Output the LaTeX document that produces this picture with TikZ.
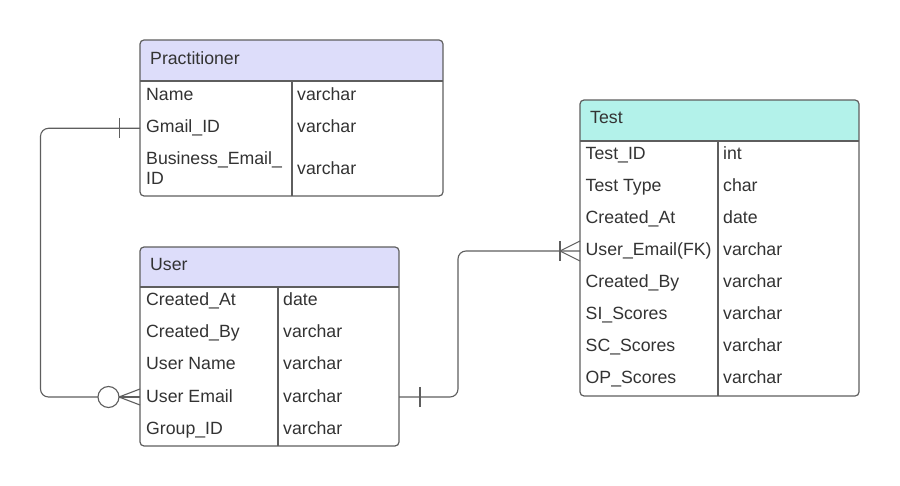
\documentclass[tikz,border=0pt]{standalone}
\usepackage{fontspec}
\setmainfont{Liberation Sans}
\usetikzlibrary{positioning}
\definecolor{lav}{HTML}{DDDDFA}
\definecolor{mint}{HTML}{B3F2EA}
\definecolor{edge}{HTML}{5E5E5E}
\definecolor{ink}{HTML}{333333}
\tikzset{
  tbl/.style={draw=edge,line width=1.2pt,rounded corners=4pt,anchor=north west,inner sep=0pt,outer sep=0pt},
  fld/.style={anchor=base west,inner sep=0pt,text=ink,font=\fontsize{17.7}{20}\selectfont},
  rel/.style={draw=edge,line width=1.1pt,rounded corners=8pt},
  tick/.style={draw=edge,line width=1.1pt},
  rule/.style={draw=edge,line width=1.2pt},
}
\begin{document}
\begin{tikzpicture}[x=1pt,y=-1pt]
\useasboundingbox[fill=white] (0,0) rectangle (900,486);
% Practitioner
\begin{scope}
\clip[rounded corners=4pt] (140,40) rectangle (443,196);
\fill[lav] (140,40) rectangle (443,81);
\end{scope}
\draw[rule] (140,81) -- (443,81) (292,81) -- (292,196);
\node[tbl,minimum width=303pt,minimum height=156pt] (prac) at (140,40) {};
\node[fld] (prac-t) at (150,64.3) {Practitioner};
\node[fld] (p-name) at (146,100.7) {Name};
\node[fld] (p-name-ty) at (297,100.7) {varchar};
\node[fld] (p-gmail) at (146,132.7) {Gmail\_ID};
\node[fld] (p-gmail-ty) at (297,132.7) {varchar};
\node[fld,align=left] (p-bmail) at (146,185) {Business\_Email\_\\ID};
\node[fld] (p-bmail-ty) at (297,175) {varchar};
% User
\begin{scope}
\clip[rounded corners=4pt] (140,247) rectangle (399,446);
\fill[lav] (140,247) rectangle (399,287);
\end{scope}
\draw[rule] (140,287) -- (399,287) (278,287) -- (278,446);
\node[tbl,minimum width=259pt,minimum height=199pt] (user) at (140,247) {};
\node[fld] (user-t) at (150,270.7) {User};
\node[fld] (u-cat) at (146,305.6) {Created\_At};
\node[fld] (u-cat-ty) at (283,305.6) {date};
\node[fld] (u-cby) at (146,337.8) {Created\_By};
\node[fld] (u-cby-ty) at (283,337.8) {varchar};
\node[fld] (u-name) at (146,370) {User Name};
\node[fld] (u-name-ty) at (283,370) {varchar};
\node[fld] (u-email) at (146,402.2) {User Email};
\node[fld] (u-email-ty) at (283,402.2) {varchar};
\node[fld] (u-group) at (146,434.4) {Group\_ID};
\node[fld] (u-group-ty) at (283,434.4) {varchar};
% Test
\begin{scope}
\clip[rounded corners=4pt] (580,100) rectangle (859,396);
\fill[mint] (580,100) rectangle (859,141);
\end{scope}
\draw[rule] (580,141) -- (859,141) (718,141) -- (718,396);
\node[tbl,minimum width=279pt,minimum height=296pt] (test) at (580,100) {};
\node[fld] (test-t) at (590,124) {Test};
\node[fld] (t-id) at (585.5,160) {Test\_ID};
\node[fld] (t-id-ty) at (723,160) {int};
\node[fld] (t-type) at (585.5,192) {Test Type};
\node[fld] (t-type-ty) at (723,192) {char};
\node[fld] (t-cat) at (585.5,224) {Created\_At};
\node[fld] (t-cat-ty) at (723,224) {date};
\node[fld] (t-umail) at (585.5,256) {User\_Email(FK)};
\node[fld] (t-umail-ty) at (723,256) {varchar};
\node[fld] (t-cby) at (585.5,288) {Created\_By};
\node[fld] (t-cby-ty) at (723,288) {varchar};
\node[fld] (t-si) at (585.5,320) {SI\_Scores};
\node[fld] (t-si-ty) at (723,320) {varchar};
\node[fld] (t-sc) at (585.5,352) {SC\_Scores};
\node[fld] (t-sc-ty) at (723,352) {varchar};
\node[fld] (t-op) at (585.5,384) {OP\_Scores};
\node[fld] (t-op-ty) at (723,384) {varchar};
% row levels of the links
\coordinate (pg) at (0,128.3);
\coordinate (ue) at (0,397);
\coordinate (te) at (0,251);
% Practitioner -- User
\draw[rel] (prac.west |- pg) -| (40.5,397) -- (98,397);
\draw[tick] (119.3,118) -- (119.3,138);
\draw[tick,fill=white] (108.5,397) circle (10.5pt);
\draw[tick] (119,397) -- (user.west |- ue);
\draw[tick] (119,397) -- (140,389) (119,397) -- (140,405);
% User -- Test
\draw[rel] (user.east |- ue) -| (458,251) -- (test.west |- te);
\draw[tick] (420,387) -- (420,407);
\draw[tick] (560,241) -- (560,261);
\draw[tick] (560,251) -- (580,241) (560,251) -- (580,261);
\end{tikzpicture}
\end{document}
